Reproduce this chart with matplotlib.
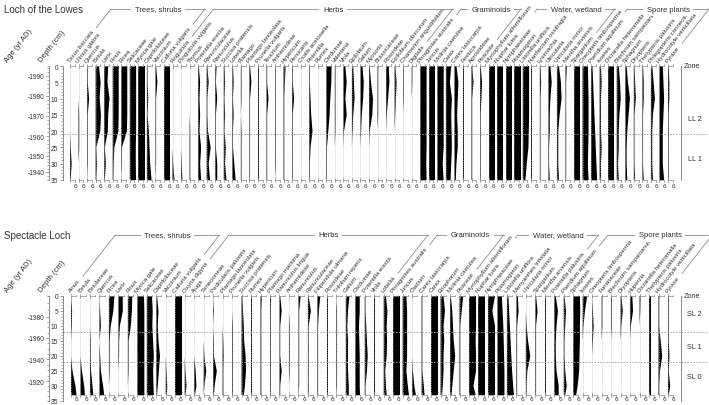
import numpy as np
import matplotlib.pyplot as plt
from matplotlib.ticker import MultipleLocator, FuncFormatter
from matplotlib.transforms import offset_copy
from matplotlib.lines import Line2D

plt.rcParams['font.family'] = ['Liberation Sans', 'DejaVu Sans']

W, H = 709, 406
INK = '#333333'
GREY = '#8c8c8c'
ANG = 52

# ---------------- Loch of the Lowes ----------------
ll_depth = [0, 5, 10, 15, 20, 25, 30, 35]
ll_group_names = ["Trees, shrubs", "Herbs", "Graminoids", "Water, wetland", "Spore plants"]

ll_trees = ["Taxus baccata", "Ulmus glabra", "Quercus", "Betula", "Larix", "Pinus", "Picea",
            "Salicaceae", "Myrica gale", "Caprifoliaceae", "Vaccinium", "Calluna vulgaris"]
ll_trees_vals = [
    [0, 0, 0, 0, 0, 0.1, 0.25, 0.1],
    [0, 0, 0, 0.1, 0.1, 0.1, 0, 0],
    [0.1, 0.1, 0.3, 0.1, 0.1, 0.1, 0.1, 0],
    [0.5, 0.75, 0.6, 0.8, 0.7, 0.1, 0.2, 0.1],
    [0.6, 0.5, 0.8, 0.6, 0.55, 0.1, 0.25, 0.1],
    [0.9, 0.9, 0.9, 0.9, 0.85, 0.25, 0.15, 0.1],
    [0.9, 0.9, 0.9, 0.9, 0.85, 0.1, 0.1, 0],
    [0.95, 0.95, 0.95, 0.95, 0.95, 0.9, 0.9, 0.95],
    [0.95, 0.95, 0.95, 0.95, 0.95, 0.95, 0.95, 0.95],
    [0.1, 0.1, 0.2, 0.1, 0.3, 0.4, 0.5, 0.7],
    [0.1, 0.3, 0.1, 0.1, 0.1, 0.1, 0.1, 0],
    [0.95, 0.95, 0.95, 0.95, 0.95, 0.95, 0.95, 0.95],
]

ll_herbs = ["Pinguicula", "Pinguicula vulgaris", "Thymus", "Potentilla erecta", "Ranunculaceae",
            "Ranunculus", "Succisa pratensis", "Lobelia", "Plantago", "Plantago lanceolata",
            "Prunella vulgaris", "Teucrium", "Anthemideae", "Hypericum", "Persicaria",
            "Oxalis acetosella", "Potentilla", "Rumex", "Carduinae", "Valeriana", "Viola",
            "Epilobium", "Galium", "Myosotis", "Brassicaceae", "Rosoideae", "Epilobium obscurum",
            "Chamerion angustifolium", "Digitalis"]
ll_herbs_vals = [
    [0, 0, 0, 0, 0, 0, 0.1, 0.3],
    [0, 0, 0, 0, 0, 0, 0.1, 0.2],
    [0, 0, 0, 0, 0.1, 0.1, 0.1, 0.1],
    [0.1, 0.3, 0.2, 0.3, 0.2, 0.45, 0.3, 0.45],
    [0.1, 0.3, 0.1, 0.1, 0.2, 0.6, 0.3, 0.5],
    [0.2, 0.1, 0.3, 0.1, 0.1, 0.1, 0.3, 0.3],
    [0.1, 0.2, 0.1, 0.2, 0.1, 0.3, 0.2, 0.4],
    [0.1, 0.2, 0.1, 0.2, 0.1, 0.1, 0.3, 0.5],
    [0.1, 0.1, 0.1, 0, 0.1, 0.1, 0.1, 0.1],
    [0.1, 0.3, 0.1, 0.1, 0.1, 0.1, 0.1, 0.1],
    [0.1, 0.1, 0.1, 0.1, 0.1, 0.1, 0.1, 0.1],
    [0.1, 0.1, 0.3, 0.1, 0.1, 0.1, 0.1, 0.1],
    [0.1, 0.1, 0.1, 0.1, 0.1, 0.1, 0.1, 0],
    [0.3, 0.2, 0.1, 0.1, 0.1, 0.1, 0.1, 0.1],
    [0.1, 0.1, 0.3, 0.1, 0.1, 0.1, 0.1, 0.1],
    [0.1, 0.1, 0.1, 0.1, 0.1, 0.1, 0.1, 0.1],
    [0.1, 0.1, 0.2, 0.3, 0.5, 0.2, 0.1, 0.1],
    [0.1, 0.1, 0.1, 0.1, 0.1, 0.1, 0.1, 0.1],
    [0.8, 0.75, 0.6, 0.5, 0.3, 0.1, 0.1, 0.1],
    [0.1, 0.1, 0.1, 0.1, 0.1, 0, 0, 0],
    [0.3, 0.5, 0.3, 0.5, 0.1, 0, 0, 0],
    [0.2, 0.3, 0.4, 0.2, 0.1, 0, 0, 0],
    [0.3, 0.5, 0.4, 0.2, 0.1, 0, 0, 0],
    [0.1, 0.3, 0.6, 0.5, 0.1, 0, 0, 0],
    [0.1, 0.1, 0.1, 0.1, 0, 0, 0, 0],
    [0.4, 0.5, 0.3, 0.1, 0, 0, 0, 0],
    [0.1, 0.3, 0.2, 0.1, 0, 0, 0, 0],
    [0.1, 0.1, 0.1, 0, 0, 0, 0, 0],
    [0.1, 0.1, 0, 0, 0, 0, 0, 0],
]

ll_gram = ["Phragmites australis", "Juncus", "Molinia caerulea", "Carex", "Carex lasiocarpa",
           "Festuca", "Agrostideae", "Poaceae"]
ll_gram_vals = [
    [0.95, 0.95, 0.95, 0.95, 0.95, 0.95, 0.9, 0.95],
    [0.95, 0.95, 0.95, 0.95, 0.95, 0.95, 0.95, 0.95],
    [0.95, 0.95, 0.95, 0.95, 0.95, 0.95, 0.8, 0.95],
    [0.8, 0.6, 0.9, 0.8, 0.85, 0.9, 0.8, 0.7],
    [0.3, 0.6, 0.5, 0.4, 0.5, 0.5, 0.3, 0.2],
    [0.1, 0.1, 0.1, 0.1, 0.1, 0.1, 0.1, 0.1],
    [0.1, 0.3, 0.1, 0.1, 0.1, 0.1, 0.1, 0.1],
    [0.1, 0.3, 0.2, 0.1, 0.1, 0.1, 0.1, 0.1],
]

ll_water = ["Myriophyllum alterniflorum", "Nuphar lutea", "Nymphaeaceae", "Potamogeton",
            "Littorella uniflora", "Narthecium ossifragum", "Lysimachia", "Utricularia",
            "Utricularia minor", "Mentha arvensis", "Sparganium"]
ll_water_vals = [
    [0.95, 0.95, 0.95, 0.95, 0.95, 0.95, 0.95, 0.95],
    [0.95, 0.95, 0.95, 0.95, 0.95, 0.95, 0.95, 0.95],
    [0.95, 0.95, 0.95, 0.95, 0.95, 0.95, 0.95, 0.95],
    [0.95, 0.95, 0.95, 0.95, 0.95, 0.95, 0.95, 0.95],
    [0.95, 0.95, 0.95, 0.95, 0.9, 0.85, 0.6, 0.4],
    [0.1, 0.1, 0.1, 0.1, 0.1, 0.1, 0.1, 0.1],
    [0.1, 0.2, 0.1, 0.1, 0.1, 0.1, 0.1, 0.1],
    [0.3, 0.5, 0.3, 0.2, 0.2, 0.1, 0.1, 0.2],
    [0.3, 0.6, 0.7, 0.4, 0.2, 0.2, 0.2, 0.3],
    [0.2, 0.1, 0.1, 0.1, 0.1, 0.1, 0.1, 0.1],
    [0.9, 0.9, 0.9, 0.9, 0.9, 0.9, 0.9, 0.9],
]

ll_spore = ["Oreopteris limbosperma", "Pteridium aquilinum", "Isoetes", "Dicranella heteromalla",
            "Blechnum sampaioanum", "Sphagnum", "Dryopteris", "Thelypteris palustris",
            "Phlegopteris connectilis", "Hydrocotyle verticillata", "Pyrase"]
ll_spore_vals = [
    [0.8, 0.85, 0.9, 0.9, 0.9, 0.85, 0.8, 0.9],
    [0.2, 0.3, 0.4, 0.5, 0.6, 0.7, 0.8, 0.9],
    [0.2, 0.3, 0.2, 0.2, 0.2, 0.3, 0.2, 0.2],
    [0.85, 0.85, 0.85, 0.85, 0.85, 0.85, 0.85, 0.85],
    [0.3, 0.5, 0.6, 0.4, 0.3, 0.3, 0.2, 0.3],
    [0.2, 0.4, 0.7, 0.5, 0.3, 0.2, 0.2, 0.3],
    [0.1, 0.2, 0.3, 0.1, 0.1, 0.1, 0.1, 0.2],
    [0.1, 0.2, 0.2, 0.1, 0.1, 0.1, 0.1, 0.2],
    [0.2, 0.4, 0.6, 0.3, 0.2, 0.2, 0.2, 0.3],
    [0.5, 0.6, 0.7, 0.6, 0.5, 0.5, 0.5, 0.7],
    [0.1, 0.2, 0.2, 0.1, 0.1, 0.1, 0.1, 0.1],
]

ll_age_depth = [0, 3, 9.2, 15.3, 21.5, 27.6, 32.5, 35]
ll_age_year = [1995, 1990, 1980, 1970, 1960, 1950, 1940, 1936]
ll_age_ticks = [1990, 1980, 1970, 1960, 1950, 1940]
ll_zones = ["LL 2", "LL 1"]
ll_zone_mid = [16, 28.5]
ll_zone_bounds = [21]

# ---------------- Spectacle Loch ----------------
sl_depth = [0, 5, 10, 15, 20, 25, 30, 33]
sl_group_names = ["Trees, shrubs", "Herbs", "Graminoids", "Water, wetland", "Spore plants"]

sl_trees = ["Alnus", "Betula", "Betulaceae", "Quercus", "Picea", "Larix", "Pinus", "Myrica gale",
            "Salicaceae", "Caprifoliaceae", "Vaccinium", "Calluna vulgaris"]
sl_trees_vals = [
    [0, 0.15, 0.1, 0, 0, 0.2, 0.6, 0.75],
    [0, 0, 0, 0, 0, 0.2, 0.5, 0.6],
    [0, 0, 0, 0.1, 0.1, 0.15, 0.35, 0.45],
    [0, 0.1, 0.2, 0, 0.1, 0.2, 0.5, 0.65],
    [0.75, 0.6, 0.25, 0.1, 0.1, 0.1, 0, 0],
    [0.6, 0.6, 0.2, 0.1, 0.1, 0, 0, 0],
    [0.6, 0.55, 0.4, 0.1, 0.1, 0.1, 0, 0],
    [0.9, 0.95, 0.95, 0.95, 0.95, 0.95, 0.95, 0.95],
    [0.7, 0.8, 0.75, 0.85, 0.95, 0.85, 0.9, 0.95],
    [0.1, 0.3, 0.2, 0.3, 0.5, 0.35, 0.2, 0.1],
    [0, 0, 0, 0, 0, 0.1, 0.2, 0.15],
    [0.95, 0.95, 0.95, 0.95, 0.95, 0.95, 0.95, 0.95],
]

sl_herbs = ["Oxyria digyna", "Ajuga", "Senecioneae", "Pedicularis palustris",
            "Plantago lanceolata", "Prunella vulgaris", "Succisa pratensis", "Rumex", "Hypericum",
            "Plantago maritima", "Ranunculus lingua", "Anthemideae", "Ranunculus",
            "Ranunculaceae", "Filipendula ulmaria", "Rosoideae", "Trifolium repens", "Galium",
            "Carduinae", "Potentilla erecta", "Viola", "Lobelia"]
sl_herbs_vals = [
    [0, 0, 0, 0, 0, 0.1, 0.25, 0.1],
    [0, 0, 0, 0, 0, 0.2, 0.3, 0.1],
    [0, 0, 0, 0, 0.1, 0.35, 0.1, 0],
    [0, 0.1, 0, 0.1, 0.1, 0.5, 0.2, 0.1],
    [0, 0, 0, 0.1, 0.15, 0.1, 0.1, 0.1],
    [0, 0, 0.1, 0.1, 0.1, 0.1, 0.1, 0.1],
    [0.1, 0.2, 0.3, 0.35, 0.55, 0.6, 0.45, 0.3],
    [0.1, 0.1, 0.1, 0.1, 0.1, 0.1, 0.1, 0.1],
    [0.2, 0.1, 0.1, 0.1, 0.1, 0.1, 0.1, 0.1],
    [0.15, 0.1, 0.1, 0.1, 0.1, 0.1, 0.1, 0.1],
    [0.1, 0.3, 0.1, 0.1, 0.1, 0.3, 0.1, 0.1],
    [0, 0, 0.1, 0.1, 0.1, 0.1, 0, 0],
    [0.3, 0.1, 0.1, 0.1, 0.1, 0.1, 0.1, 0],
    [0.1, 0.4, 0.1, 0.1, 0.1, 0.1, 0.1, 0.1],
    [0.4, 0.2, 0.1, 0.1, 0.1, 0.1, 0.1, 0.1],
    [0.1, 0.1, 0.1, 0.1, 0.1, 0.1, 0.1, 0.1],
    [0, 0.1, 0.1, 0.1, 0.1, 0.1, 0.1, 0],
    [0.5, 0.3, 0.2, 0.3, 0.3, 0.3, 0.4, 0.4],
    [0.6, 0.6, 0.5, 0.55, 0.6, 0.6, 0.6, 0.65],
    [0.1, 0.1, 0.2, 0.3, 0.4, 0.3, 0.1, 0.1],
    [0.1, 0.1, 0.1, 0.1, 0.1, 0.1, 0.1, 0.1],
    [0.3, 0.5, 0.4, 0.45, 0.4, 0.2, 0.3, 0.4],
]

sl_gram = ["Phragmites australis", "Juncus", "Cladium", "Carex lasiocarpa", "Carex",
           "Eriophorum", "Molinia caerulea", "Poaceae"]
sl_gram_vals = [
    [0.95, 0.95, 0.95, 0.95, 0.95, 0.95, 0.95, 0.95],
    [0.5, 0.6, 0.6, 0.6, 0.6, 0.5, 0.7, 0.85],
    [0, 0, 0, 0, 0, 0.1, 0.3, 0.5],
    [0.1, 0.1, 0.1, 0.1, 0.1, 0.1, 0.3, 0.4],
    [0.95, 0.95, 0.95, 0.95, 0.95, 0.95, 0.95, 0.95],
    [0.4, 0.6, 0.4, 0.5, 0.4, 0.4, 0.3, 0.2],
    [0.1, 0.3, 0.4, 0.5, 0.7, 0.5, 0.3, 0.2],
    [0.5, 0.3, 0.1, 0.1, 0.1, 0.1, 0.1, 0.1],
]

sl_water = ["Myriophyllum alterniflorum", "Nuphar lutea", "Nymphaeaceae", "Potamogeton",
            "Littorella uniflora", "Menyanthes trifoliata", "Utricularia minor", "Sparganium",
            "Mentha arvensis", "Potentilla palustris"]
sl_water_vals = [
    [0.95, 0.95, 0.95, 0.9, 0.95, 0.95, 0.6, 0.9],
    [0.95, 0.95, 0.95, 0.95, 0.95, 0.95, 0.95, 0.95],
    [0.95, 0.6, 0.95, 0.95, 0.95, 0.95, 0.95, 0.95],
    [0.6, 0.7, 0.8, 0.85, 0.9, 0.95, 0.95, 0.95],
    [0.2, 0.3, 0.4, 0.5, 0.6, 0.7, 0.85, 0.95],
    [0.2, 0.3, 0.1, 0.1, 0.1, 0.1, 0.1, 0.1],
    [0, 0, 0.1, 0.3, 0.6, 0.2, 0.1, 0.1],
    [0.1, 0.3, 0.1, 0.1, 0.1, 0.1, 0.1, 0.1],
    [0.1, 0.1, 0.1, 0.1, 0.1, 0.1, 0.1, 0.1],
    [0.2, 0.5, 0.3, 0.2, 0.2, 0.3, 0.6, 0.6],
]

sl_spore = ["Pteridium aquilinum", "Sphagnum", "Isoetes", "Oreopteris limbosperma",
            "Funariaceae", "Blechnum sampaioanum", "Dryopteris", "Huperzia",
            "Dicranella heteromalla", "Thelypteris palustris", "Hydrocotyle verticillata", "Pyrase"]
sl_spore_vals = [
    [0.1, 0.3, 0.2, 0.1, 0.1, 0.2, 0.4, 0.2],
    [0.9, 0.95, 0.9, 0.9, 0.85, 0.8, 0.6, 0.4],
    [0.6, 0.3, 0.1, 0, 0, 0, 0, 0],
    [0, 0.1, 0.2, 0.1, 0, 0, 0, 0],
    [0.1, 0.1, 0.1, 0, 0, 0, 0, 0],
    [0.1, 0.1, 0.1, 0, 0, 0, 0, 0],
    [0.1, 0.3, 0.1, 0, 0, 0, 0, 0],
    [0.3, 0.4, 0.1, 0, 0, 0, 0, 0],
    [0.15, 0.1, 0, 0, 0, 0, 0, 0],
    [0.3, 0.3, 0.3, 0.3, 0.3, 0.3, 0.3, 0.3],
    [0.1, 0.1, 0.1, 0.3, 0.5, 0.2, 0.1, 0.1],
    [0.1, 0.1, 0.1, 0.1, 0.2, 0.1, 0.3, 0.1],
]

sl_age_depth = [0, 7, 13.9, 21.1, 28.4, 35]
sl_age_year = [1995, 1980, 1960, 1940, 1920, 1900]
sl_age_ticks = [1980, 1960, 1940, 1920]
sl_zones = ["SL 2", "SL 1", "SL 0"]
sl_zone_mid = [6, 16.8, 26.7]
sl_zone_bounds = [12, 22]

fig = plt.figure(figsize=(W / 100, H / 100), dpi=100)
brackets = []


def px_box(x0, y0, x1, y1):
    return [x0 / W, 1 - y1 / H, (x1 - x0) / W, (y1 - y0) / H]


def draw_site(title, groups, group_names, depth, data_end, age_depth, age_year, age_ticks,
              age_minor, zones, zone_mid, zone_bounds, lay):
    taxa = [t for names, _ in groups for t in names]
    vals = [v for _, vv in groups for v in vv]
    n = len(taxa)
    pitch = (lay['col_last'] - lay['col_first']) / (n - 1)
    x_left = -(lay['col_first'] - lay['depth_ax']) / pitch
    x_right = (lay['zone_x'] - lay['col_first']) / pitch

    ax = fig.add_axes(px_box(lay['depth_ax'], lay['y0'], lay['zone_x'], lay['y35']))
    ax.set_xlim(x_left, x_right)
    ax.set_ylim(35, 0)
    for s in ['top', 'right', 'bottom']:
        ax.spines[s].set_visible(False)
    ax.spines['left'].set_color(GREY)
    ax.spines['left'].set_linewidth(0.7)
    ax.set_xticks([])
    ax.yaxis.set_major_locator(MultipleLocator(5))
    ax.yaxis.set_minor_locator(MultipleLocator(1))
    ax.tick_params(axis='y', which='major', labelsize=4.8, labelcolor=INK, color=GREY,
                   length=2.5, width=0.6, pad=1)
    ax.tick_params(axis='y', which='minor', color=GREY, length=1.2, width=0.5)

    cols = np.arange(n)
    ax.vlines(cols, 0, data_end, colors='#b8b8b8', linestyles=(0, (1, 1.5)), lw=0.5)
    for b in zone_bounds:
        ax.hlines(b, x_left, x_right, colors='#a0a0a0', linestyles=(0, (2, 1.5)), lw=0.6,
                  clip_on=False)

    d = np.array(depth)
    for i, v in enumerate(vals):
        ax.fill_betweenx(d, i, i + 0.78 * np.array(v), facecolor='black', lw=0)

    # small scale marks at top and bottom of each column
    for yb, sgn in ((0, -1), (data_end, 1)):
        for i in cols:
            ax.plot([i, i + 0.55], [yb, yb], color=GREY, lw=0.5, clip_on=False)
            ax.plot([i, i], [yb - 0.6, yb + 0.6], color=GREY, lw=0.5, clip_on=False)
            ax.plot([i + 0.55, i + 0.55], [yb, yb + sgn * 0.5], color=GREY, lw=0.5,
                    clip_on=False)
    for i in cols:
        ax.annotate("6", xy=(i + 0.6, data_end), xytext=(0, lay['six_dy']),
                    textcoords='offset points', ha='center', va='top', fontsize=4.6, color=INK)

    lab_tr = offset_copy(ax.transData, fig=fig, x=0, y=3, units='dots')
    labels = []
    for i, name in enumerate(taxa):
        labels.append(ax.text(i + 0.1, 0, name, transform=lab_tr, rotation=ANG,
                              rotation_mode='anchor', ha='left', va='bottom',
                              fontsize=4.4, color=INK))
    k = 0
    for (names, _), gname in zip(groups, group_names):
        brackets.append((labels[k], labels[k + len(names) - 1], gname, lay['header_y']))
        k += len(names)

    # age axis
    fwd = lambda x: np.interp(x, age_depth, age_year)
    inv = lambda y: np.interp(y, age_year[::-1], age_depth[::-1])
    loc = (lay['age_ax'] - lay['depth_ax']) / (lay['zone_x'] - lay['depth_ax'])
    sec = ax.secondary_yaxis(loc, functions=(fwd, inv))
    sec.set_yticks(age_ticks)
    sec.yaxis.set_major_formatter(FuncFormatter(lambda v, p: f"-{v:.0f}"))
    sec.yaxis.set_minor_locator(MultipleLocator(age_minor))
    sec.spines['left'].set_color(GREY)
    sec.spines['left'].set_linewidth(0.7)
    sec.tick_params(which='major', labelsize=4.8, labelcolor=INK, color=GREY, length=2.5,
                    width=0.6, pad=1)
    sec.tick_params(which='minor', color=GREY, length=1.2, width=0.5)

    fig.text((lay['age_ax'] - 40) / W, 1 - (lay['y0'] - 3) / H, "Age (yr AD)", rotation=ANG,
             rotation_mode='anchor', ha='left', va='bottom', fontsize=5.6, color=INK)
    fig.text((lay['depth_ax'] - 20) / W, 1 - (lay['y0'] - 3) / H, "Depth (cm)", rotation=ANG,
             rotation_mode='anchor', ha='left', va='bottom', fontsize=5.6, color=INK)
    fig.text(4 / W, 1 - lay['header_y'] / H, title, ha='left', va='center', fontsize=7,
             color=INK)

    # zone column
    zax = fig.add_axes(px_box(lay['zone_x'], lay['y0'], W - 1, lay['y35']))
    zax.set_xlim(0, 1)
    zax.set_ylim(35, 0)
    for s in ['top', 'right', 'bottom']:
        zax.spines[s].set_visible(False)
    zax.spines['left'].set_color(GREY)
    zax.spines['left'].set_linewidth(0.7)
    zax.set_xticks([])
    zax.set_yticks([])
    zax.patch.set_alpha(0)
    for b in zone_bounds:
        zax.axhline(b, color='#a0a0a0', ls=(0, (2, 1.5)), lw=0.6)
    for z, m in zip(zones, zone_mid):
        zax.text(0.5, m, z, ha='center', va='center', fontsize=5.2, color=INK)
    zax.text(0.12, 0, "Zone", ha='left', va='center', fontsize=5.2, color=INK)


ll_lay = dict(header_y=10, y0=67, y35=181, age_ax=49, depth_ax=63, col_first=70,
              col_last=668, zone_x=681, six_dy=-2.5)
sl_lay = dict(header_y=236, y0=297, y35=402, age_ax=49, depth_ax=63, col_first=71,
              col_last=668, zone_x=681, six_dy=-0.8)

draw_site("Loch of the Lowes",
          [(ll_trees, ll_trees_vals), (ll_herbs, ll_herbs_vals), (ll_gram, ll_gram_vals),
           (ll_water, ll_water_vals), (ll_spore, ll_spore_vals)],
          ll_group_names, ll_depth, 35, ll_age_depth, ll_age_year, ll_age_ticks, 2,
          ll_zones, ll_zone_mid, ll_zone_bounds, ll_lay)
draw_site("Spectacle Loch",
          [(sl_trees, sl_trees_vals), (sl_herbs, sl_herbs_vals), (sl_gram, sl_gram_vals),
           (sl_water, sl_water_vals), (sl_spore, sl_spore_vals)],
          sl_group_names, sl_depth, 33, sl_age_depth, sl_age_year, sl_age_ticks, 5,
          sl_zones, sl_zone_mid, sl_zone_bounds, sl_lay)

# group brackets above the rotated taxon names
fig.canvas.draw()
rend = fig.canvas.get_renderer()
cot = 1 / np.tan(np.radians(ANG))
for first, last, gname, hy_px in brackets:
    hy = H - hy_px
    ends = []
    for t in (first, last):
        bb = t.get_window_extent(rend)
        sx, sy = bb.x1 + 1.5, min(bb.y1 + 1.5, hy - 3)
        ex = sx + (hy - sy) * cot
        fig.add_artist(Line2D([sx / W, ex / W], [sy / H, hy / H], transform=fig.transFigure,
                              color=GREY, lw=0.6))
        ends.append(ex)
    fig.add_artist(Line2D([ends[0] / W, ends[1] / W], [hy / H, hy / H],
                          transform=fig.transFigure, color=GREY, lw=0.6))
    fig.text((ends[0] + ends[1]) / 2 / W, hy / H, gname, ha='center', va='center',
             fontsize=5.5, color=INK, bbox=dict(fc='white', ec='none', pad=2.5))

fig.savefig("out.png", dpi=100)
